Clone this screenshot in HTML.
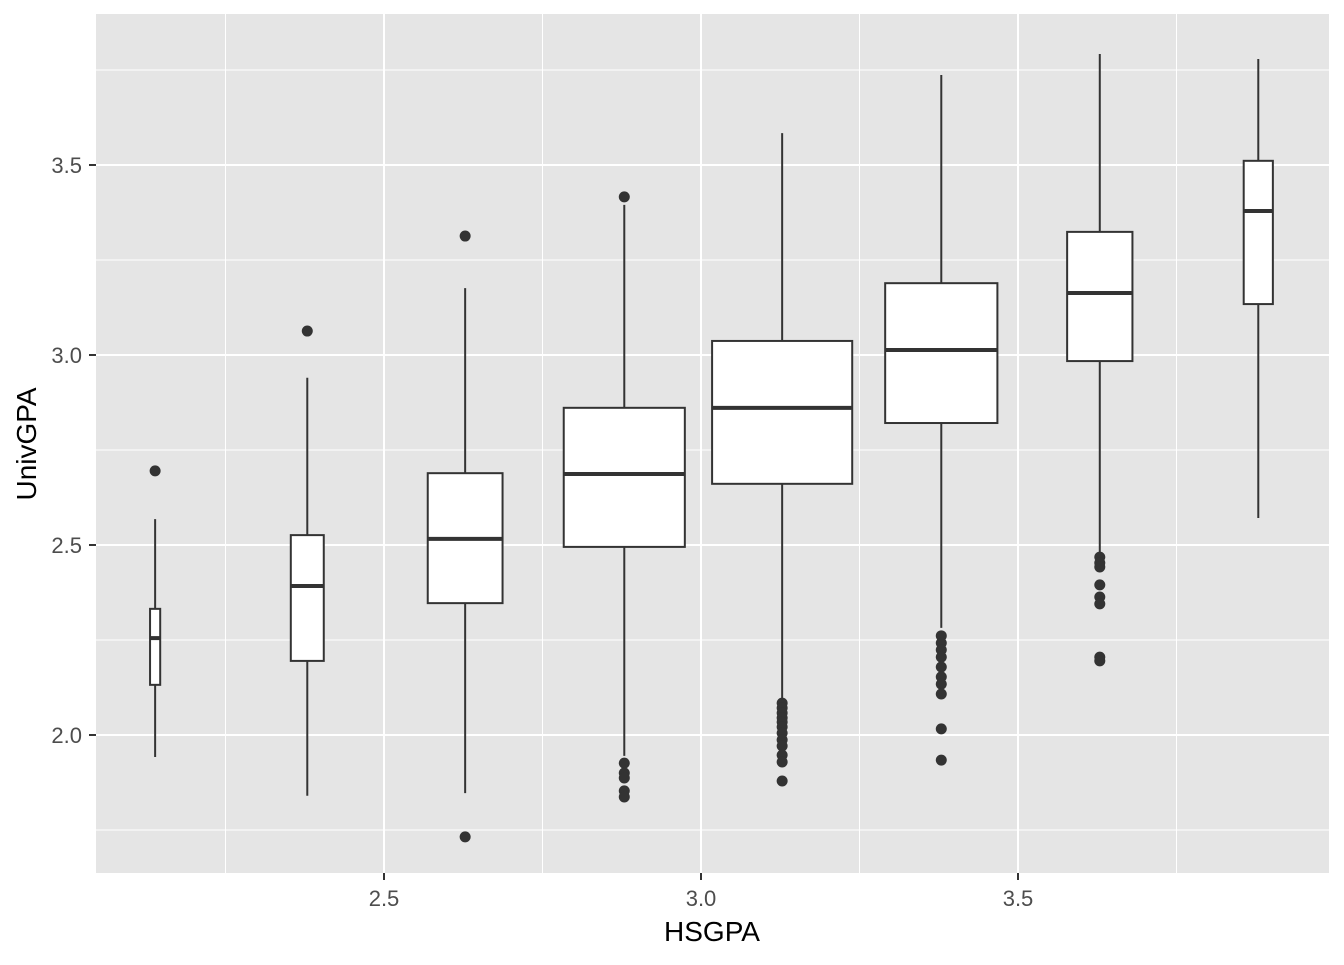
<!DOCTYPE html>
<html><head><meta charset="utf-8"><style>
body{margin:0;background:#fff;}
svg text{font-family:"Liberation Sans",Arial,sans-serif;}
</style></head><body>
<svg id="chart" width="1344" height="960" xmlns="http://www.w3.org/2000/svg">
<rect x="96" y="14" width="1233" height="859" fill="#e5e5e5"/>
<g id="grid"></g><g id="boxes"></g><g id="axes"></g>
<text x="712" y="941" font-size="28" text-anchor="middle" fill="#000">HSGPA</text>
<text transform="translate(36,444) rotate(-90)" font-size="28" text-anchor="middle" fill="#000">UnivGPA</text>
</svg>
<script>
const centers=[2.139,2.379,2.628,2.879,3.128,3.379,3.629,3.879];
const widths=[0.016,0.052,0.118,0.191,0.221,0.177,0.103,0.046];
const lowerW=[1.942,1.84,1.847,1.945,2.097,2.282,2.479,2.571];
const q1=[2.132,2.195,2.347,2.495,2.661,2.821,2.984,3.134];
const med=[2.255,2.392,2.516,2.687,2.861,3.013,3.163,3.379];
const q3=[2.332,2.526,2.689,2.861,3.037,3.189,3.324,3.511];
const upperW=[2.568,2.94,3.176,3.395,3.584,3.737,3.792,3.779];
const outliers=[[2.695],[3.063],[3.313,1.732],[3.416,1.926,1.9,1.887,1.853,1.837],
[2.084,2.071,2.058,2.045,2.034,2.021,2.005,1.987,1.971,1.947,1.929,1.879],
[2.261,2.242,2.224,2.205,2.179,2.153,2.134,2.108,2.016,1.934],
[2.468,2.453,2.442,2.395,2.363,2.345,2.205,2.195],[]];
const xTicks=[2.5,3.0,3.5];const xMinor=[2.25,2.75,3.25,3.75];
const yTicks=[2.0,2.5,3.0,3.5];const yMinor=[1.75,2.25,2.75,3.25,3.75];
const X=v=>701+(v-3)*634, Y=v=>355-(v-3)*380;
const NS="http://www.w3.org/2000/svg";
function mk(p,t,a){const e=document.createElementNS(NS,t);for(const k in a)e.setAttribute(k,a[k]);p.appendChild(e);return e;}
const g=document.getElementById('grid'),b=document.getElementById('boxes'),ax=document.getElementById('axes');
xMinor.forEach(v=>{const l=mk(g,'line',{x1:X(v),x2:X(v),y1:14,y2:873,stroke:'#fff','stroke-width':1});});
yMinor.forEach(v=>{const l=mk(g,'line',{x1:96,x2:1329,y1:Y(v),y2:Y(v),stroke:'#fff','stroke-width':1});});
xTicks.forEach(v=>{const l=mk(g,'line',{x1:X(v),x2:X(v),y1:14,y2:873,stroke:'#fff','stroke-width':2});
const t=mk(ax,'line',{x1:X(v),x2:X(v),y1:873,y2:880,stroke:'#333','stroke-width':2});
const s=mk(ax,'text',{x:X(v),y:906,'font-size':22,'text-anchor':'middle',fill:'#4d4d4d'});s.textContent=v.toFixed(1);});
yTicks.forEach(v=>{const l=mk(g,'line',{x1:96,x2:1329,y1:Y(v),y2:Y(v),stroke:'#fff','stroke-width':2});
const t=mk(ax,'line',{x1:89,x2:96,y1:Y(v),y2:Y(v),stroke:'#333','stroke-width':2});
const s=mk(ax,'text',{x:82,y:Y(v)+8,'font-size':22,'text-anchor':'end',fill:'#4d4d4d'});s.textContent=v.toFixed(1);});
centers.forEach((c,i)=>{const cx=X(c),hw=widths[i]*634/2;
const gr=mk(b,'g',{});
mk(gr,'line',{x1:cx,x2:cx,y1:Y(upperW[i]),y2:Y(q3[i]),stroke:'#333','stroke-width':2});
mk(gr,'line',{x1:cx,x2:cx,y1:Y(q1[i]),y2:Y(lowerW[i]),stroke:'#333','stroke-width':2});
mk(gr,'rect',{x:cx-hw,y:Y(q3[i]),width:2*hw,height:Y(q1[i])-Y(q3[i]),fill:'#fff',stroke:'#333','stroke-width':2});
mk(gr,'line',{x1:cx-hw,x2:cx+hw,y1:Y(med[i]),y2:Y(med[i]),stroke:'#333','stroke-width':4});
outliers[i].forEach(o=>{const p=mk(gr,'circle',{cx:cx,cy:Y(o),r:5.5,fill:'#333'});});
});
</script>
</body></html>
